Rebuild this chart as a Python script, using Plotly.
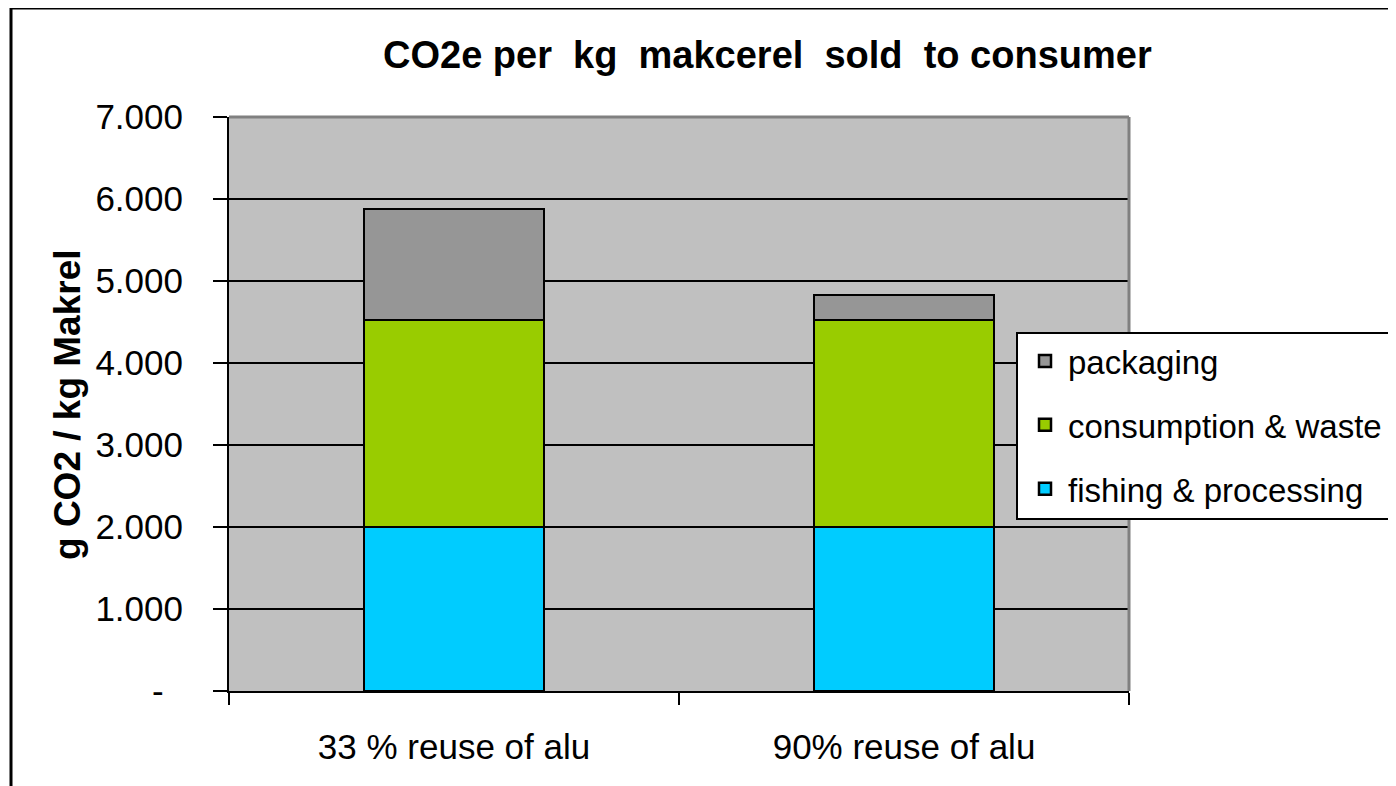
import plotly.graph_objects as go

categories = ["33 % reuse of alu", "90% reuse of alu"]
fishing = [2000, 2000]
consumption = [2525, 2525]
packaging = [1355, 305]
series_names = ["fishing & processing", "consumption & waste", "packaging"]
series_colors = ["#00CCFF", "#99CC00", "#969696"]
legend_ranks = [3, 2, 1]
tick_vals = [0, 1000, 2000, 3000, 4000, 5000, 6000, 7000]
tick_text = ["-\u00a0\u00a0", "1.000", "2.000", "3.000", "4.000", "5.000", "6.000", "7.000"]

FONT = "Liberation Sans, Arial, sans-serif"
W, H = 1396, 786
OFF = 8  # page body margin
L, R, T, B = 229, 1129, 117, 691   # target plot area in screenshot pixels
pw, ph = R - L, B - T

def px(x):
    return (x - L) / pw

def py(y):
    return (B - y) / ph

fig = go.Figure()
for name, vals, col, rk in zip(series_names, [fishing, consumption, packaging], series_colors, legend_ranks):
    fig.add_trace(go.Bar(
        x=categories, y=vals, name=name, width=0.4,
        marker=dict(color=col, line=dict(color="black", width=2.5)),
        legendgroup=name, legendrank=rk,
    ))

fig.update_layout(
    width=W, height=H,
    margin=dict(l=L - OFF, r=W - (R - OFF), t=T - OFF, b=H - (B - OFF), pad=0),
    barmode="stack",
    paper_bgcolor="white",
    plot_bgcolor="#C0C0C0",
    font=dict(family=FONT, size=35, color="black"),
    showlegend=True,
    legend=dict(
        x=px(1022), y=py(333), xanchor="left", yanchor="top",
        bgcolor="rgba(0,0,0,0)", borderwidth=0,
        traceorder="grouped", tracegroupgap=18,
        font=dict(family=FONT, size=33, color="black"),
        itemwidth=36,
    ),
    xaxis=dict(
        type="category", tickson="boundaries", ticks="outside", ticklen=12,
        tickwidth=2, tickcolor="black", showline=True, linecolor="black", linewidth=2,
        showgrid=False, zeroline=False, ticklabelstandoff=24,
        tickfont=dict(family=FONT, size=35, color="black"),
    ),
    yaxis=dict(
        range=[0, 7000], tickvals=tick_vals, ticktext=tick_text,
        ticks="outside", ticklen=14, tickwidth=2, tickcolor="black",
        showline=True, linecolor="black", linewidth=2,
        showgrid=True, gridcolor="black", gridwidth=2, zeroline=False,
        ticklabelstandoff=23,
        tickfont=dict(family=FONT, size=35, color="black"),
    ),
    shapes=[
        dict(type="line", xref="paper", yref="paper", x0=0, x1=1, y0=1, y1=1,
             line=dict(color="#808080", width=3), layer="above"),
        dict(type="line", xref="paper", yref="paper", x0=1, x1=1, y0=0, y1=1,
             line=dict(color="#808080", width=3), layer="above"),
        dict(type="rect", xref="paper", yref="paper",
             x0=px(11), x1=px(1430), y0=py(820), y1=py(8),
             line=dict(color="black", width=3), fillcolor="rgba(0,0,0,0)", layer="above"),
        dict(type="rect", xref="paper", yref="paper",
             x0=px(1017), x1=px(1430), y0=py(519), y1=py(333),
             line=dict(color="black", width=2), fillcolor="white", layer="above"),
    ],
    annotations=[
        dict(text="<b>CO2e per  kg  makcerel  sold  to consumer</b>", xref="paper", yref="paper",
             x=px(767), y=py(55), xanchor="center", yanchor="middle", showarrow=False,
             font=dict(family=FONT, size=38, color="black")),
        dict(text="<b>g CO2 / kg Makrel</b>", xref="paper", yref="paper",
             x=px(67), y=py(405), xanchor="center", yanchor="middle", showarrow=False,
             textangle=-90, font=dict(family=FONT, size=37, color="black")),
    ],
)

fig.write_html("out.html")
